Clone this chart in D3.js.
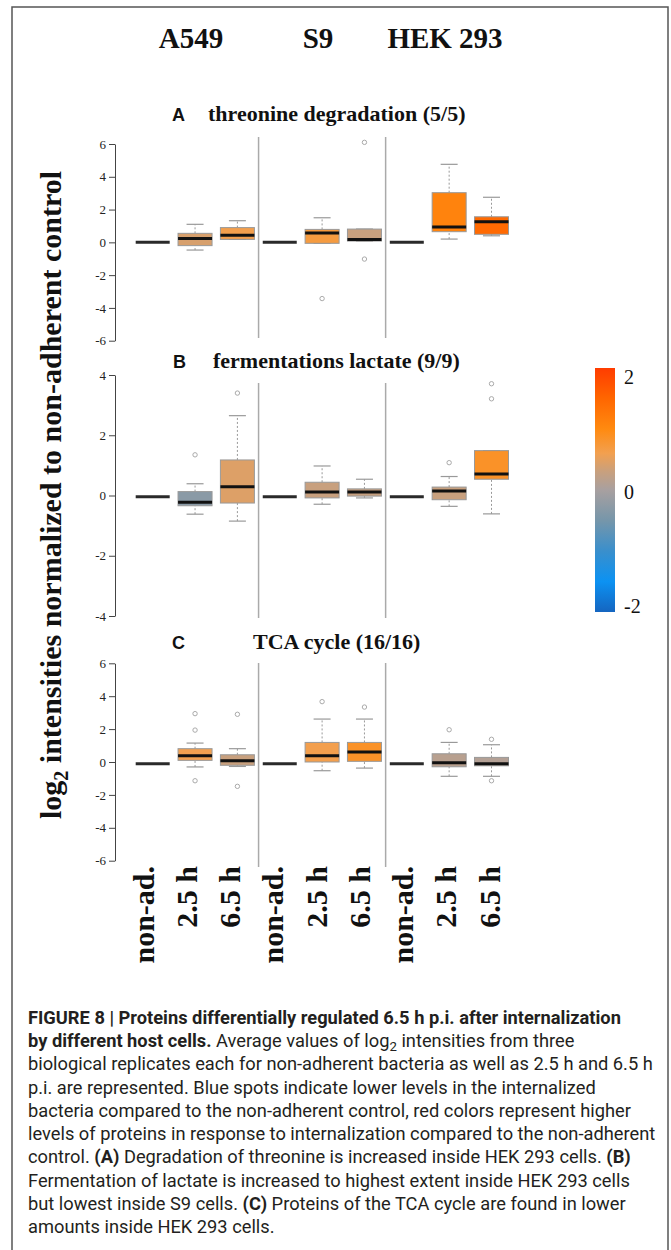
<!DOCTYPE html>
<html lang="en">
<head>
<meta charset="UTF-8">
<title>Figure 8</title>
<script src="https://d3js.org/d3.v7.min.js"></script>
<style>
    body { margin: 0; background: #fff; }
    svg { display: block; }
    .serif { font-family: "Liberation Serif", "Times New Roman", serif; font-weight: bold; fill: #111; }
    .letter { font-family: "Liberation Sans", Arial, sans-serif; font-weight: bold; font-size: 18px; fill: #111; }
    .caption { font-family: "Liberation Sans Narrow", Roboto, sans-serif; font-size: 18px; fill: #231f20; }
</style>
</head>
<body>
<svg width="671" height="1250"></svg>
<script>
const hostCells = ["A549", "S9", "HEK 293"];
const timePoints = ["non-ad.", "2.5 h", "6.5 h"];
const panelLetters = ["A", "B", "C"];
const panelTitles = ["threonine degradation (5/5)", "fermentations lactate (9/9)", "TCA cycle (16/16)"];
const panelTicks = [[6, 4, 2, 0, -2, -4, -6], [4, 2, 0, -2, -4], [6, 4, 2, 0, -2, -4, -6]];

// each box: [lower whisker, q1, median, q3, upper whisker]
const boxesA = [
    [0, 0, 0, 0, 0], [-0.47, -0.2, 0.24, 0.55, 1.1], [0.18, 0.18, 0.43, 0.9, 1.32],
    [0, 0, 0, 0, 0], [-0.06, -0.06, 0.57, 0.79, 1.5], [0.08, 0.08, 0.18, 0.81, 0.81],
    [0, 0, 0, 0, 0], [0.2, 0.65, 0.93, 3.03, 4.76], [0.4, 0.49, 1.25, 1.56, 2.75]
];
const outliersA = [[], [], [], [], [-3.43], [6.1, -1.02], [], [], []];
const averagesA = [0, 0.41, 0.62, 0, 0.7, 0.3, 0, 1.1, 1.45];

const boxesB = [
    [-0.04, -0.04, -0.04, -0.04, -0.04], [-0.62, -0.34, -0.22, 0.13, 0.39], [-0.85, -0.25, 0.29, 1.18, 2.65],
    [-0.04, -0.04, -0.04, -0.04, -0.04], [-0.29, -0.08, 0.12, 0.44, 0.98], [-0.08, -0.02, 0.12, 0.22, 0.54],
    [-0.04, -0.04, -0.04, -0.04, -0.04], [-0.36, -0.14, 0.15, 0.28, 0.63], [-0.61, 0.54, 0.71, 1.49, 1.49]
];
const outliersB = [[], [1.35], [3.4], [], [], [], [], [1.09], [3.71, 3.21]];
const averagesB = [0, -0.3, 0.45, 0, 0.3, 0.28, 0, 0.3, 0.85];

const boxesC = [
    [-0.1, -0.1, -0.1, -0.1, -0.1], [-0.3, 0.1, 0.38, 0.81, 1.15], [-0.27, -0.2, 0.08, 0.44, 0.81],
    [-0.1, -0.1, -0.1, -0.1, -0.1], [-0.53, 0.0, 0.38, 1.19, 2.61], [-0.37, 0.04, 0.61, 1.19, 2.61],
    [-0.1, -0.1, -0.1, -0.1, -0.1], [-0.87, -0.29, -0.04, 0.5, 1.19], [-0.87, -0.23, -0.1, 0.28, 1.05]
];
const outliersC = [[], [2.94, 1.94, -1.14], [2.9, -1.48], [], [3.67], [3.34], [], [1.96], [1.38, -1.14]];
const averagesC = [0, 0.6, 0.3, 0, 0.62, 0.85, 0, 0.15, 0.1];

const legendTicks = [2, 0, -2];
const colorStops = [-2, -1.5, -1, -0.5, 0, 0.3, 0.6, 1, 1.5, 2];
const colorValues = ["#1565c0", "#0c92f2", "#3a8fcc", "#7696aa", "#a8a0a0", "#c8a07e", "#f2a050", "#ff8a10", "#ff6600", "#ff3c00"];

const captionLines = [
    [["b", "FIGURE 8 | Proteins differentially regulated 6.5 h p.i. after internalization"]],
    [["b", "by different host cells."], ["n", " Average values of log"], ["sub", "2"], ["n", " intensities from three"]],
    [["n", "biological replicates each for non-adherent bacteria as well as 2.5 h and 6.5 h"]],
    [["n", "p.i. are represented. Blue spots indicate lower levels in the internalized"]],
    [["n", "bacteria compared to the non-adherent control, red colors represent higher"]],
    [["n", "levels of proteins in response to internalization compared to the non-adherent"]],
    [["n", "control. "], ["b", "(A)"], ["n", " Degradation of threonine is increased inside HEK 293 cells. "], ["b", "(B)"]],
    [["n", "Fermentation of lactate is increased to highest extent inside HEK 293 cells"]],
    [["n", "but lowest inside S9 cells. "], ["b", "(C)"], ["n", " Proteins of the TCA cycle are found in lower"]],
    [["n", "amounts inside HEK 293 cells."]]
];

const svg = d3.select("svg");

const panels = [
    {boxes: boxesA, outliers: outliersA, averages: averagesA, top: 144, bottom: 340.7, sepTop: 137, sepBottom: 338, letterX: 172, titleX: 208, titleY: 121},
    {boxes: boxesB, outliers: outliersB, averages: averagesB, top: 375, bottom: 616, sepTop: 383, sepBottom: 618, letterX: 173, titleX: 213, titleY: 368},
    {boxes: boxesC, outliers: outliersC, averages: averagesC, top: 663.3, bottom: 860.7, sepTop: 663, sepBottom: 867, letterX: 172, titleX: 253, titleY: 649}
];

const x = d3.scaleLinear().domain([0, 8]).range([152.7, 491.5]);
const labelX = d3.scaleLinear().domain([0, 8]).range([143, 489]);
const boxW = 34;
const color = d3.scaleLinear().domain(colorStops).range(colorValues);

// frame
svg.append("rect")
    .attr("x", 12).attr("y", 7).attr("width", 656).attr("height", 1260)
    .attr("fill", "none").attr("stroke", "#555").attr("stroke-width", 1.5);

// host cell headers
const headerX = d3.scaleLinear().domain([0, 2]).range([191, 445]);
svg.selectAll(".header")
    .data(hostCells)
    .enter()
    .append("text")
    .attr("class", "serif")
    .attr("x", (d, i) => headerX(i))
    .attr("y", 48)
    .attr("text-anchor", "middle")
    .style("font-size", "29px")
    .text(d => d);

panels.forEach(function(p, k) {
    const ticks = panelTicks[k];
    const y = d3.scaleLinear().domain([d3.min(ticks), d3.max(ticks)]).range([p.bottom, p.top]);
    const g = svg.append("g");

    g.append("text").attr("class", "letter")
        .attr("x", p.letterX).attr("y", p.titleY).text(panelLetters[k]);
    g.append("text").attr("class", "serif")
        .attr("x", p.titleX).attr("y", p.titleY)
        .style("font-size", "22px").text(panelTitles[k]);

    const axis = g.append("g")
        .attr("transform", "translate(115,0)")
        .call(d3.axisLeft(y).tickValues(ticks).tickSize(6).tickSizeOuter(0).tickPadding(3).tickFormat(d => String(d)));
    axis.attr("font-family", "Liberation Serif, serif").attr("font-size", 13);
    axis.select(".domain").attr("stroke", "#444");
    axis.selectAll(".tick line").attr("stroke", "#444");
    axis.selectAll(".tick text").attr("fill", "#222");

    // separators between host cells
    [2.5, 5.5].forEach(function(s) {
        g.append("line")
            .attr("x1", x(s)).attr("x2", x(s))
            .attr("y1", p.sepTop).attr("y2", p.sepBottom)
            .attr("stroke", "#aaa").attr("stroke-width", 1.5);
    });

    p.boxes.forEach(function(b, i) {
        const cx = x(i);
        const bx = g.append("g");
        if (i % 3 !== 0) {
            // whiskers
            [[b[0], b[1]], [b[3], b[4]]].forEach(function(w) {
                bx.append("line")
                    .attr("x1", cx).attr("x2", cx)
                    .attr("y1", y(w[0])).attr("y2", y(w[1]))
                    .attr("stroke", "#999").attr("stroke-dasharray", "2,2");
            });
            [b[0], b[4]].forEach(function(c) {
                bx.append("line")
                    .attr("x1", cx - boxW / 4).attr("x2", cx + boxW / 4)
                    .attr("y1", y(c)).attr("y2", y(c))
                    .attr("stroke", "#999").attr("stroke-width", 1.2);
            });
            bx.append("rect")
                .attr("x", cx - boxW / 2).attr("width", boxW)
                .attr("y", y(b[3])).attr("height", y(b[1]) - y(b[3]))
                .attr("fill", color(p.averages[i]))
                .attr("stroke", "#999").attr("stroke-width", 1);
        }
        bx.append("line")
            .attr("x1", cx - boxW / 2).attr("x2", cx + boxW / 2)
            .attr("y1", y(b[2])).attr("y2", y(b[2]))
            .attr("stroke", i % 3 === 0 ? "#2a2a2a" : "#111")
            .attr("stroke-width", 3);
        p.outliers[i].forEach(function(o) {
            bx.append("circle")
                .attr("cx", cx).attr("cy", y(o)).attr("r", 2.2)
                .attr("fill", "none").attr("stroke", "#aaa").attr("stroke-width", 1);
        });
    });
});

// x labels under panel C
const xLabels = d3.range(9).map(i => timePoints[i % 3]);
svg.selectAll(".xlab")
    .data(xLabels)
    .enter()
    .append("text")
    .attr("class", "serif")
    .attr("transform", (d, i) => "translate(" + labelX(i) + ",866) rotate(-90)")
    .attr("text-anchor", "end")
    .attr("dy", "0.35em")
    .style("font-size", "30px")
    .text(d => d);

// y axis title
const yt = svg.append("text")
    .attr("class", "serif")
    .attr("transform", "translate(50,495) rotate(-90)")
    .attr("text-anchor", "middle")
    .attr("dy", "0.35em")
    .style("font-size", "30px");
yt.append("tspan").text("log");
yt.append("tspan").attr("dy", 7).style("font-size", "20px").text("2");
yt.append("tspan").attr("dy", -7).text(" intensities normalized to non-adherent control");

// colour legend
const defs = svg.append("defs");
const grad = defs.append("linearGradient").attr("id", "legendGrad")
    .attr("x1", 0).attr("y1", 1).attr("x2", 0).attr("y2", 0);
grad.selectAll("stop")
    .data(colorStops)
    .enter()
    .append("stop")
    .attr("offset", d => (d + 2) / 4)
    .attr("stop-color", d => color(d));
svg.append("rect")
    .attr("x", 595).attr("y", 368).attr("width", 20).attr("height", 244)
    .attr("fill", "url(#legendGrad)");
const legendY = d3.scaleLinear().domain([-2, 2]).range([606, 377]);
svg.selectAll(".legtick")
    .data(legendTicks)
    .enter()
    .append("text")
    .attr("class", "serif")
    .style("font-weight", "normal")
    .style("font-size", "20px")
    .attr("x", 624)
    .attr("y", d => legendY(d))
    .attr("dy", "0.35em")
    .text(d => String(d));

// caption
const cap = svg.append("g");
const lineY = d3.scaleLinear().domain([0, 9]).range([1024, 1233]);
captionLines.forEach(function(parts, i) {
    const t = cap.append("text").attr("class", "caption").attr("x", 0).attr("y", lineY(i));
    parts.forEach(function(pt, j) {
        const s = t.append("tspan").text(pt[1]);
        if (pt[0] === "b") s.style("font-weight", "bold");
        if (pt[0] === "sub") s.attr("dy", 4).style("font-size", "13px");
        if (j > 0 && parts[j - 1][0] === "sub") s.attr("dy", -4);
    });
});
const maxW = d3.max(cap.selectAll("text").nodes(), n => n.getComputedTextLength());
cap.attr("transform", "translate(28,0) scale(" + (628 / maxW) + ",1)");
</script>
</body>
</html>
